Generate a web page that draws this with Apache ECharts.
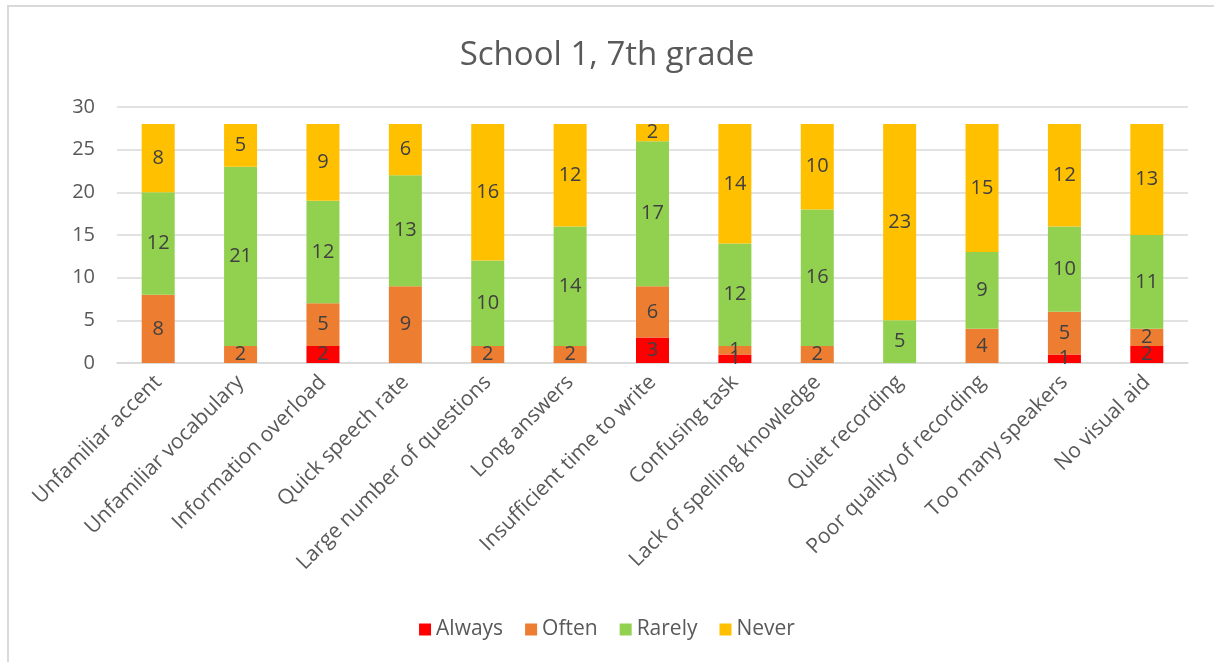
<!DOCTYPE html>
<html>
<head>
<meta charset="utf-8">
<script src="https://cdn.jsdelivr.net/npm/echarts@6/dist/echarts.min.js"></script>
<style>
  html, body { margin: 0; padding: 0; background: #fff; }
  #frame {
    position: absolute; left: 7px; top: 5px; width: 1207px; height: 657px;
    border-top: 2px solid #d9d9d9; border-left: 2px solid #d9d9d9;
  }
  #box { position: absolute; left: 0; top: 0; width: 1214px; height: 662px; }
</style>
</head>
<body>
<div id="frame"></div>
<div id="box"></div>
<script>
var categories = ["Unfamiliar accent", "Unfamiliar vocabulary", "Information overload", "Quick speech rate",
  "Large number of questions", "Long answers", "Insufficient time to write", "Confusing task",
  "Lack of spelling knowledge", "Quiet recording", "Poor quality of recording", "Too many speakers", "No visual aid"];
var always = [0, 0, 2, 0, 0, 0, 3, 1, 0, 0, 0, 1, 2];
var often  = [8, 2, 5, 9, 2, 2, 6, 1, 2, 0, 4, 5, 2];
var rarely = [12, 21, 12, 13, 10, 14, 17, 12, 16, 5, 9, 10, 11];
var never  = [8, 5, 9, 6, 16, 12, 2, 14, 10, 23, 15, 12, 13];
var yTicks = [0, 5, 10, 15, 20, 25, 30];

var font = "'Open Sans', 'Liberation Sans', sans-serif";
var myChart = echarts.init(document.getElementById("box"));

function makeSeries(name, data, color) {
  return {
    name: name,
    type: "bar",
    stack: "total",
    data: data,
    barWidth: 33,
    itemStyle: { color: color },
    label: {
      show: true,
      position: "inside",
      color: "#404040",
      fontFamily: font,
      fontSize: 20,
      formatter: function (p) { return p.value === 0 ? "" : p.value; }
    }
  };
}

var option = {
  animation: false,
  title: {
    text: "School 1, 7th grade",
    left: "center",
    top: 34,
    textStyle: { fontFamily: font, fontSize: 33, fontWeight: "normal", color: "#595959" }
  },
  legend: {
    bottom: 17,
    left: "center",
    itemWidth: 12,
    itemHeight: 12,
    itemGap: 22,
    icon: "rect",
    textStyle: { fontFamily: font, fontSize: 21, color: "#595959" },
    data: ["Always", "Often", "Rarely", "Never"]
  },
  grid: { left: 117, right: 26, top: 107, bottom: 299 },
  xAxis: {
    type: "category",
    data: categories,
    axisLine: { lineStyle: { color: "#d9d9d9", width: 1.5 } },
    axisTick: { show: false },
    axisLabel: {
      rotate: 45,
      interval: 0,
      margin: 16,
      color: "#595959",
      fontFamily: font,
      fontSize: 21
    }
  },
  yAxis: {
    type: "value",
    min: yTicks[0],
    max: yTicks[yTicks.length - 1],
    interval: 5,
    axisLine: { show: false },
    axisTick: { show: false },
    splitLine: { lineStyle: { color: "#d9d9d9", width: 1.5 } },
    axisLabel: { color: "#595959", fontFamily: font, fontSize: 20, margin: 22 }
  },
  series: [
    makeSeries("Always", always, "#FF0000"),
    makeSeries("Often", often, "#ED7D31"),
    makeSeries("Rarely", rarely, "#92D050"),
    makeSeries("Never", never, "#FFC000")
  ]
};
myChart.setOption(option);
</script>
</body>
</html>
